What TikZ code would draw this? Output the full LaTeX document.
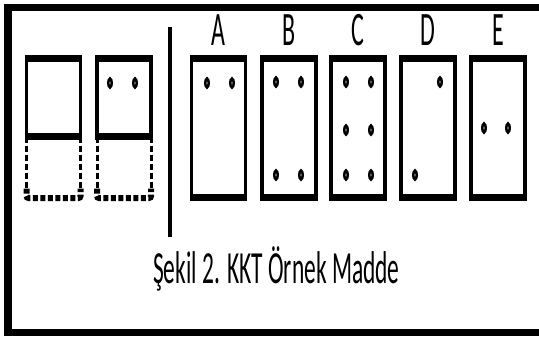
\documentclass[tikz,border=0pt]{standalone}
\usepackage{fontspec}
\usepackage{graphicx}
\newfontfamily\calfont{Carlito}
\usetikzlibrary{shapes.geometric}
\newcommand\lbl[1]{\scalebox{0.5}[1]{\calfont\fontsize{48}{52}\selectfont #1}}
\begin{document}
\begin{tikzpicture}[x=1pt,y=-1pt,
  card/.style={draw, rectangle, line width=3.5pt, minimum width=54pt, minimum height=139pt, inner sep=0pt, outer sep=0pt},
  halfcard/.style={draw, rectangle, line width=3.5pt, minimum width=54pt, minimum height=78pt, inner sep=0pt, outer sep=0pt},
  bar/.style={line width=6.5pt},
  dashside/.style={line width=3pt, dash pattern=on 6pt off 3pt},
  dashbottom/.style={line width=6pt, dash pattern=on 5pt off 2.5pt},
  hole/.style={draw, ellipse, line width=2.5pt, minimum width=3.5pt, minimum height=9pt, inner sep=0pt},
  letter/.style={anchor=base, inner sep=0pt},
]
\useasboundingbox (0,0) rectangle (539,338);
\fill[white] (0,0) rectangle (539,338);
% frame
\draw[line width=7.5pt] (545,7.5) -- (8,7.5) -- (8,332.5) -- (545,332.5);
% separator
\coordinate (s1) at (170,27);
\coordinate (s2) at (170,237);
\draw[line width=3.5pt] (s1) -- (s2);

% left split cards
\foreach \n/\cx in {p/53.5, q/124}{
  \node[halfcard] (\n) at (\cx,97.5) {};
  \draw[bar] ([xshift=-1.75pt]\n.north west) -- ([xshift=1.75pt]\n.north east);
  \draw[bar] ([xshift=-1.75pt]\n.south west) -- ([xshift=1.75pt]\n.south east);
  \draw[dashside] (\n.south west) -- ++(0,54);
  \draw[dashside] (\n.south east) -- ++(0,54);
  \draw[dashbottom, rounded corners=2pt] ([yshift=-52pt]\n.south west) |- ([yshift=-61.5pt]\n.south) -| ([yshift=-52pt]\n.south east);
}
\node[hole] (q1) at (110,83) {};
\node[hole] (q2) at (135,83) {};

% answer cards
\foreach \n/\cx in {A/218.5, B/289, C/358, D/428, E/498}{
  \node[card] (\n) at (\cx,127.75) {};
  \draw[bar] ([xshift=-1.75pt]\n.north west) -- ([xshift=1.75pt]\n.north east);
  \draw[bar] ([xshift=-1.75pt]\n.south west) -- ([xshift=1.75pt]\n.south east);
  \node[letter] (l\n) at (\cx,45) {\lbl{\n}};
}
\node[hole] (a1) at (207,83) {};
\node[hole] (a2) at (232,83) {};
\node[hole] (b1) at (276,82) {};
\node[hole] (b2) at (301,82) {};
\node[hole] (b3) at (276,175) {};
\node[hole] (b4) at (301,175) {};
\node[hole] (c1) at (346,82) {};
\node[hole] (c2) at (371,82) {};
\node[hole] (c3) at (346,130) {};
\node[hole] (c4) at (371,130) {};
\node[hole] (c5) at (346,175) {};
\node[hole] (c6) at (371,175) {};
\node[hole] (d1) at (440,82) {};
\node[hole] (d2) at (415,175) {};
\node[hole] (e1) at (484,128) {};
\node[hole] (e2) at (508,128) {};

% caption
\node[anchor=base west, inner sep=0pt] (cap) at (153,283) {\scalebox{0.51}[1]{\calfont\fontsize{46}{50}\selectfont Şekil 2. KKT Örnek Madde}};
\end{tikzpicture}
\end{document}
